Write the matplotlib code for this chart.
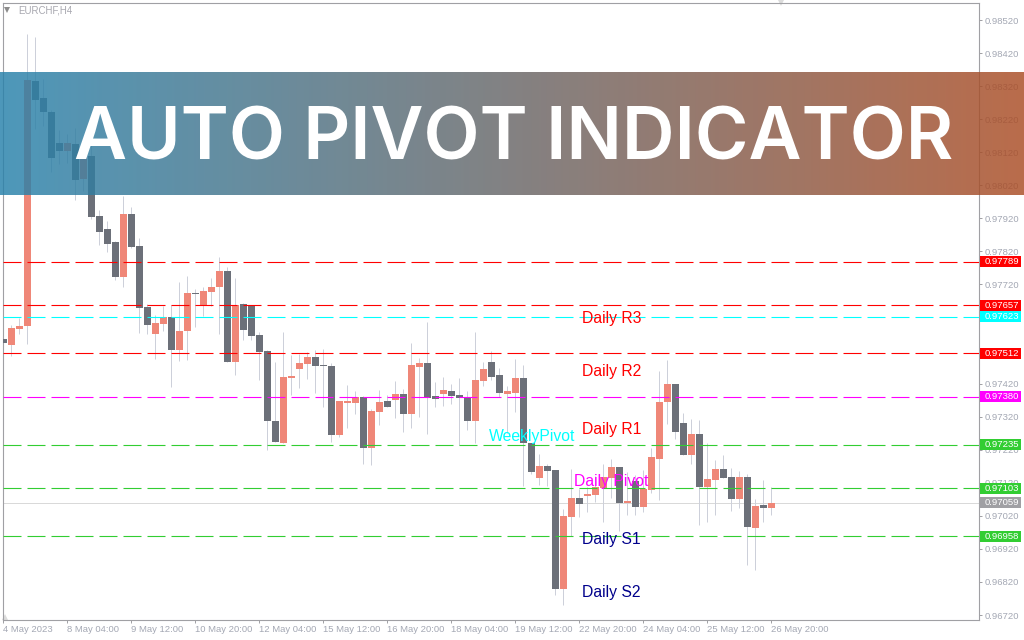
import numpy as np
import matplotlib
matplotlib.use('Agg')
import matplotlib.pyplot as plt
from matplotlib.patches import Rectangle
from matplotlib.colors import LinearSegmentedColormap

# EURCHF H4 candles, prices in units of 0.00001
opens = [97555, 97537, 97585, 97594, 98335, 98284, 98242, 98148, 98124, 98145,
         98039, 98109, 97927, 97888, 97848, 97743, 97933, 97836, 97652, 97570,
         97600, 97622, 97522, 97579, 97694, 97655, 97697, 97712, 97761, 97485,
         97661, 97658, 97567, 97519, 97307, 97241, 97437, 97464, 97479, 97501,
         97476, 97473, 97265, 97361, 97361, 97380, 97225, 97334, 97367, 97371,
         97389, 97328, 97470, 97482, 97383, 97389, 97398, 97386, 97380, 97307,
         97428, 97485, 97446, 97389, 97392, 97437, 97241, 97135, 97171, 97159,
         96799, 97017, 97074, 97080, 97083, 97104, 97135, 97168, 97059, 97126,
         97047, 97098, 97192, 97364, 97419, 97301, 97204, 97268, 97107, 97129,
         97162, 97138, 97071, 97138, 96983, 97053, 97044]
highs = [97600, 97597, 97619, 98478, 98469, 98342, 98248, 98187, 98175, 98193,
         98157, 98202, 97945, 97912, 97851, 97988, 97954, 97861, 97661, 97628,
         97655, 97658, 97727, 97746, 97706, 97712, 97740, 97803, 97773, 97740,
         97664, 97658, 97576, 97522, 97485, 97576, 97507, 97510, 97516, 97522,
         97525, 97482, 97367, 97416, 97398, 97383, 97343, 97401, 97386, 97428,
         97404, 97543, 97498, 97606, 97425, 97440, 97419, 97437, 97398, 97576,
         97485, 97519, 97467, 97413, 97494, 97476, 97241, 97207, 97177, 97159,
         97041, 97162, 97101, 97107, 97141, 97177, 97192, 97168, 97153, 97144,
         97159, 97225, 97458, 97492, 97419, 97331, 97313, 97310, 97241, 97189,
         97204, 97165, 97156, 97147, 97071, 97129, 97107]
lows = [97513, 97504, 97570, 97540, 98190, 98199, 98060, 98084, 98087, 97976,
        98003, 97918, 97839, 97818, 97734, 97712, 97830, 97573, 97570, 97494,
        97579, 97410, 97489, 97492, 97591, 97625, 97655, 97570, 97485, 97446,
        97552, 97552, 97431, 97219, 97244, 97241, 97386, 97407, 97434, 97392,
        97349, 97244, 97259, 97286, 97328, 97177, 97174, 97295, 97349, 97316,
        97274, 97286, 97319, 97268, 97349, 97352, 97358, 97234, 97280, 97241,
        97413, 97431, 97380, 97271, 97334, 97110, 97147, 97113, 97110, 96781,
        96750, 96959, 97017, 97032, 97062, 97001, 97074, 96974, 97023, 97023,
        97032, 97089, 97068, 97298, 97252, 97204, 97177, 96992, 97001, 97023,
        97135, 97035, 97044, 96871, 96856, 97001, 97023]
closes = [97543, 97588, 97594, 98338, 98278, 98242, 98103, 98124, 98148, 98036,
          98109, 97924, 97879, 97842, 97743, 97933, 97833, 97649, 97597, 97603,
          97622, 97522, 97579, 97694, 97691, 97700, 97712, 97761, 97485, 97658,
          97582, 97564, 97516, 97307, 97244, 97440, 97443, 97482, 97501, 97473,
          97473, 97265, 97367, 97367, 97380, 97225, 97337, 97364, 97349, 97389,
          97328, 97476, 97482, 97377, 97374, 97401, 97383, 97377, 97307, 97431,
          97464, 97440, 97392, 97398, 97437, 97241, 97153, 97171, 97156, 96799,
          97020, 97074, 97056, 97086, 97107, 97138, 97168, 97059, 97065, 97047,
          97101, 97198, 97364, 97419, 97274, 97204, 97268, 97107, 97132, 97162,
          97135, 97071, 97138, 96986, 97050, 97044, 97059]

# pivot levels and the last price
level_prices = [0.97789, 0.97657, 0.97623, 0.97512, 0.97380, 0.97235, 0.97103, 0.96958]
level_colors = ['#ff0000', '#ff0000', '#00ffff', '#ff0000', '#ff00ff', '#32cd32', '#32cd32', '#32cd32']
last_price = 0.97059

label_names = ['Daily R3', 'Daily R2', 'Daily R1', 'WeeklyPivot', 'Daily Pivot', 'Daily S1', 'Daily S2']
label_bars = [72.3, 72.3, 72.3, 60.7, 71.3, 72.3, 72.3]
label_prices = [0.97617, 0.97458, 0.97281, 0.97259, 0.97123, 0.96950, 0.96788]
label_colors = ['#ff0000', '#ff0000', '#ff0000', '#00ffff', '#ff00ff', '#00008b', '#00008b']

price_ticks = [0.98520, 0.98420, 0.98320, 0.98220, 0.98120, 0.98020, 0.97920, 0.97820, 0.97720,
               0.97620, 0.97520, 0.97420, 0.97320, 0.97220, 0.97120, 0.97020, 0.96920, 0.96820, 0.96720]
time_labels = ['4 May 2023', '8 May 04:00', '9 May 12:00', '10 May 20:00', '12 May 04:00',
               '15 May 12:00', '16 May 20:00', '18 May 04:00', '19 May 12:00', '22 May 20:00',
               '24 May 04:00', '25 May 12:00', '26 May 20:00']

opens, highs = np.array(opens) / 1e5, np.array(highs) / 1e5
lows, closes = np.array(lows) / 1e5, np.array(closes) / 1e5
bars = np.arange(len(opens))

FRAME = '#a0a0a4'
TICKTEXT = '#a4a8b4'
UP = '#ef8778'
DOWN = '#6c7079'
WICK = '#cdd0da'
plt.rcParams['font.family'] = 'Liberation Sans'

fig = plt.figure(figsize=(10.24, 6.4), dpi=100, facecolor='white')
ax = fig.add_axes([2.5 / 1024, 1 - 619.5 / 640, 976 / 1024, 617 / 640])
ax.set_xlim(-0.1, 121.9)
ax.set_ylim(0.967065, 0.98573)

ax.axhline(last_price, color='#d9d9d9', lw=0.72, zorder=1)
ax.vlines(bars, lows, highs, color=WICK, lw=0.72, zorder=2)
up = closes >= opens
ax.bar(bars[up], (closes - opens)[up], bottom=opens[up], width=0.875, color=UP, lw=0, zorder=3, antialiased=False)
ax.bar(bars[~up], (opens - closes)[~up], bottom=closes[~up], width=0.875, color=DOWN, lw=0, zorder=3, antialiased=False)

# dashes 18 px on, 6 px off
for price, col in zip(level_prices, level_colors):
    ax.axhline(price, color=col, lw=0.8, ls=(0, (16.2, 5.4)), zorder=4)

for name, bar, price, col in zip(label_names, label_bars, label_prices, label_colors):
    ax.text(bar, price, name, color=col, fontsize=11.3, va='center', ha='left', zorder=5)

for side in ax.spines.values():
    side.set_color(FRAME)
    side.set_linewidth(0.8)

ax.yaxis.tick_right()
ax.set_yticks(price_ticks)
ax.set_yticklabels(['%.5f' % p for p in price_ticks])
ax.set_xticks(bars[::8])
ax.set_xticklabels(time_labels, ha='left')
ax.tick_params(axis='both', length=2.5, width=0.7, color=FRAME, labelcolor=TICKTEXT, labelsize=6.8)
ax.tick_params(axis='y', pad=2)
ax.tick_params(axis='x', pad=1.5)

# coloured price tags on the axis
tag_prices = level_prices + [last_price]
tag_colors = level_colors + [FRAME]
trans = ax.get_yaxis_transform()
for price, col in zip(tag_prices, tag_colors):
    ax.add_patch(Rectangle((1.0016, price - 0.000166), 0.042, 0.000332, transform=trans,
                           fc=col, ec='none', clip_on=False, zorder=6))
    ax.text(1.0059, price, '%.5f' % price, transform=trans, color='white', fontsize=6.8,
            va='center', ha='left', clip_on=False, zorder=7)

# symbol caption and small chart markers
ax.text(0.0159, 0.9875, 'EURCHF,H4', transform=ax.transAxes, color='#a8a8b0', fontsize=7, va='center')
ax.plot([0.0045], [0.9875], marker='v', ms=5, color='#8c8c8c', mew=0, transform=ax.transAxes, clip_on=False)
ax.plot([0.7975], [0.9985], marker='v', ms=5, color='#dcdcdc', mew=0, transform=ax.transAxes, clip_on=False)
ax.plot([0.003], [0.004], marker='^', ms=5, color='#dcdcdc', mew=0, transform=ax.transAxes, clip_on=False)

# translucent banner across the chart
cmap = LinearSegmentedColormap.from_list('banner', ['#2882ac', '#ab4d25'], N=1024)
band = fig.add_axes([0, 1 - 195 / 640, 1, 123 / 640], zorder=10)
band.imshow(np.linspace(0, 1, 1024).reshape(1, -1), cmap=cmap, aspect='auto', alpha=0.83)
band.axis('off')
band.patch.set_alpha(0)
fig.text(513.5 / 1024, 1 - 160 / 640, 'AUTO PIVOT INDICATOR', color='white', fontsize=52.5,
         family='Inter', weight=600, ha='center', va='baseline', zorder=11)

fig.savefig('out.png', dpi=100)
